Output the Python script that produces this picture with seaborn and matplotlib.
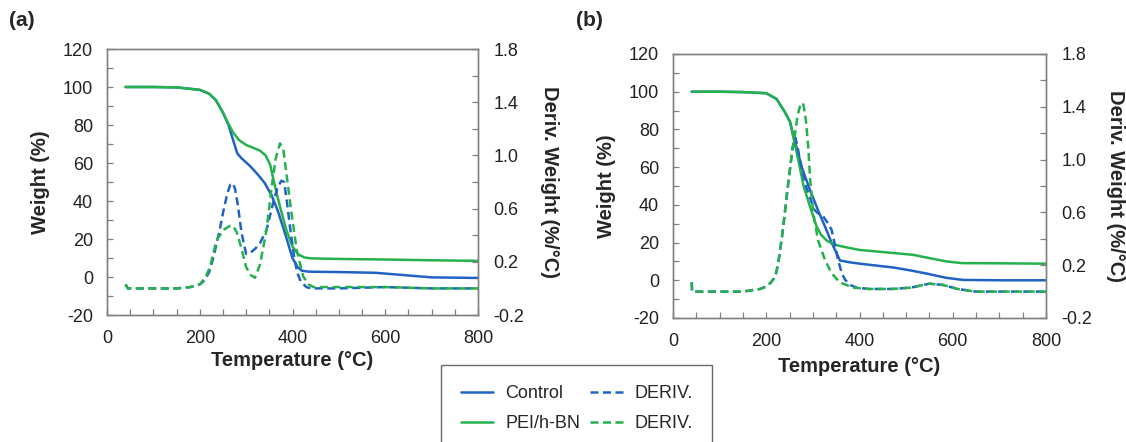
import matplotlib
matplotlib.use("Agg")
import matplotlib.pyplot as plt
from matplotlib.lines import Line2D
from matplotlib.ticker import MultipleLocator
import seaborn as sns

sns.set_theme(style="white")
plt.rcParams["font.family"] = ["Liberation Sans", "DejaVu Sans"]
plt.rcParams["axes.unicode_minus"] = False

BLUE = "#2163C4"
GREEN = "#25B14D"

# ---------------- Panel (a) data ----------------
a_ctrl_T = [40, 100, 150, 200, 220, 235, 250, 262, 272, 281, 290, 308, 325, 340, 355, 368,
            380, 390, 400, 410, 420, 435, 500, 580, 640, 700, 800]
a_ctrl_W = [100, 100, 99.8, 98.5, 96.5, 93, 86.5, 80, 72, 65, 62.5, 58.5, 54, 49.5, 43, 35,
            26, 18, 10, 5.5, 3.3, 2.8, 2.6, 2.2, 1.0, -0.2, -0.5]

a_pei_T = [40, 100, 150, 200, 220, 235, 250, 262, 272, 285, 300, 315, 330, 342, 352, 362,
           373, 387, 400, 412, 425, 440, 500, 600, 700, 800]
a_pei_W = [100, 100, 99.8, 98.5, 96.5, 93, 86.5, 80.5, 76, 72, 69.5, 68, 66.5, 64, 59, 48,
           37, 24.5, 16, 12, 10.3, 9.8, 9.5, 9.2, 8.8, 8.5]

a_ctrl_dT = [40, 45, 60, 100, 150, 180, 200, 210, 220, 230, 243, 252, 260, 266, 271, 276,
             282, 290, 300, 310, 320, 330, 344, 358, 368, 376, 382, 388, 395, 403, 410, 418,
             430, 440, 500, 600, 700, 800]
a_ctrl_D = [0.03, 0.0, 0.0, 0.0, 0.0, 0.01, 0.03, 0.06, 0.12, 0.24, 0.44, 0.6, 0.72, 0.78,
            0.79, 0.75, 0.63, 0.42, 0.26, 0.27, 0.3, 0.34, 0.44, 0.64, 0.76, 0.81, 0.8, 0.65,
            0.45, 0.25, 0.12, 0.05, 0.01, 0.0, 0.0, 0.01, 0.0, 0.0]

a_pei_dT = [40, 45, 60, 100, 150, 180, 200, 212, 222, 236, 251, 265, 272, 280, 290, 300,
            310, 319, 330, 344, 355, 364, 373, 380, 387, 398, 409, 423, 435, 445, 500, 600,
            700, 800]
a_pei_D = [0.03, 0.0, 0.0, 0.0, 0.0, 0.01, 0.03, 0.08, 0.16, 0.36, 0.44, 0.47, 0.47, 0.42,
           0.3, 0.16, 0.1, 0.08, 0.18, 0.44, 0.76, 0.98, 1.09, 1.05, 0.86, 0.56, 0.29, 0.09,
           0.03, 0.01, 0.01, 0.01, 0.0, 0.0]

# ---------------- Panel (b) data ----------------
b_ctrl_T = [40, 100, 150, 200, 222, 240, 251, 258, 265, 276, 294, 311, 329, 340, 351, 358,
            380, 401, 443, 472, 508, 543, 586, 622, 700, 800]
b_ctrl_W = [100, 100, 99.8, 99.2, 96.2, 89.2, 84, 77, 70.5, 60, 47.8, 37.2, 26.7, 20, 14.3,
            10.5, 9.5, 8.8, 7.6, 6.8, 5.3, 3.6, 1.3, 0.2, 0, 0]

b_pei_T = [40, 100, 150, 200, 222, 240, 251, 258, 265, 272, 280, 294, 308, 318, 330, 345,
           365, 400, 440, 480, 515, 545, 586, 620, 700, 800]
b_pei_W = [100, 100, 99.8, 99.2, 96.2, 89.2, 84, 76, 68, 60, 50, 39, 28.5, 24, 21, 19,
           17.8, 16.1, 15.2, 14.3, 13.5, 12, 10, 9.1, 9, 8.8]

b_ctrl_dT = [40, 41, 60, 100, 150, 187, 201, 210, 219, 225, 230, 235, 240, 245, 251, 256,
             262, 267, 272, 280, 286, 295, 303, 312, 322, 330, 340, 347, 354, 362, 369, 380,
             394, 420, 470, 510, 550, 580, 610, 650, 700, 800]
b_ctrl_D = [0.07, 0.0, 0.0, 0.0, 0.0, 0.02, 0.04, 0.07, 0.11, 0.2, 0.32, 0.45, 0.6, 0.76,
            0.93, 1.08, 1.17, 1.1, 1.0, 0.88, 0.79, 0.7, 0.62, 0.59, 0.57, 0.53, 0.47, 0.36,
            0.24, 0.14, 0.09, 0.05, 0.03, 0.02, 0.02, 0.03, 0.06, 0.05, 0.02, 0.0, 0.0, 0.0]

b_pei_dT = [40, 41, 60, 100, 150, 187, 201, 210, 219, 225, 230, 235, 240, 245, 251, 256,
            262, 267, 272, 279, 285, 290, 294, 301, 311, 326, 340, 350, 358, 372, 386, 420,
            470, 510, 550, 580, 610, 650, 700, 800]
b_pei_D = [0.07, 0.0, 0.0, 0.0, 0.0, 0.02, 0.04, 0.07, 0.11, 0.2, 0.32, 0.45, 0.6, 0.76,
           0.93, 1.08, 1.2, 1.33, 1.4, 1.43, 1.3, 1.1, 0.86, 0.59, 0.39, 0.24, 0.14, 0.1,
           0.07, 0.05, 0.03, 0.02, 0.02, 0.03, 0.06, 0.05, 0.02, 0.0, 0.0, 0.0]

x_ticks = [0, 200, 400, 600, 800]
w_ticks = [-20, 0, 20, 40, 60, 80, 100, 120]
d_ticks = [-0.2, 0.2, 0.6, 1.0, 1.4, 1.8]
d_tick_labels = ["-0.2", "0.2", "0.6", "1.0", "1.4", "1.8"]

labels = ["Control", "PEI/h-BN", "DERIV.", "DERIV."]

W, H = 1126, 442
fig = plt.figure(figsize=(W / 100, H / 100), dpi=100)

SPINE = "#808080"
DASH = (0, (3.2, 1.8))
LW = 1.8
LABEL_FS = 14.5
TICK_FS = 13


def rect_px(rect):
    l = rect[0] * W
    r = (rect[0] + rect[2]) * W
    b = (1 - rect[1]) * H
    t = (1 - rect[1] - rect[3]) * H
    return l, t, r, b


def px_rect(l, t, r, b):
    return [l / W, 1 - b / H, (r - l) / W, (b - t) / H]


def panel(rect, solid, dashed, tag, tag_xy, ylab_x, rlab_x, xlab_y):
    ax = fig.add_axes(rect)
    ax2 = ax.twinx()
    for (T, Y, c) in solid:
        sns.lineplot(x=T, y=Y, ax=ax, color=c, lw=LW, estimator=None, sort=False)
    for (T, Y, c) in dashed:
        sns.lineplot(x=T, y=Y, ax=ax2, color=c, lw=LW, linestyle=DASH,
                     estimator=None, sort=False)
    ax.set_xlim(0, 800)
    ax.set_ylim(-20, 120)
    ax2.set_ylim(-0.2, 1.8)
    ax.set_xticks(x_ticks)
    ax.set_yticks(w_ticks)
    ax2.set_yticks(d_ticks)
    ax2.set_yticklabels(d_tick_labels)
    ax.xaxis.set_minor_locator(MultipleLocator(50))
    ax.yaxis.set_minor_locator(MultipleLocator(10))
    ax2.yaxis.set_minor_locator(MultipleLocator(0.2))
    for a in (ax, ax2):
        for s in a.spines.values():
            s.set_color(SPINE)
            s.set_linewidth(1.0)
            s.set_visible(True)
        a.tick_params(which="both", direction="in", length=4, width=0.9, color=SPINE,
                      labelsize=TICK_FS, labelcolor="#222222")
        a.set_xlabel("")
        a.set_ylabel("")
    ax.tick_params(axis="x", which="both", bottom=True, top=False, pad=10.5)
    ax.tick_params(axis="y", which="both", left=True, right=False, pad=10)
    ax2.tick_params(axis="y", which="both", right=True, left=False, pad=11)
    ax2.tick_params(axis="x", which="both", bottom=False, top=False, labelbottom=False)

    fig.text(tag_xy[0] / W, 1 - tag_xy[1] / H, tag, fontsize=15, fontweight="bold",
             ha="left", va="center")
    l, t, r, b = rect_px(rect)
    cy = 1 - ((t + b) / 2) / H
    fig.text(ylab_x / W, cy, "Weight (%)", fontsize=LABEL_FS, fontweight="bold",
             rotation=90, ha="center", va="center")
    fig.text(rlab_x / W, cy, "Deriv. Weight (%/°C)", fontsize=LABEL_FS, fontweight="bold",
             rotation=270, ha="center", va="center")
    cx = (l + r) / 2 / W
    fig.text(cx, 1 - xlab_y / H, "Temperature (°C)", fontsize=LABEL_FS, fontweight="bold",
             ha="center", va="center")
    return ax, ax2


panel(px_rect(107, 49, 478, 315),
      [(a_ctrl_T, a_ctrl_W, BLUE), (a_pei_T, a_pei_W, GREEN)],
      [(a_ctrl_dT, a_ctrl_D, BLUE), (a_pei_dT, a_pei_D, GREEN)],
      "(a)", (9, 21), 40, 549, 360)

panel(px_rect(673, 54, 1046, 318),
      [(b_ctrl_T, b_ctrl_W, BLUE), (b_pei_T, b_pei_W, GREEN)],
      [(b_ctrl_dT, b_ctrl_D, BLUE), (b_pei_dT, b_pei_D, GREEN)],
      "(b)", (576, 21), 606, 1116, 366)

handles = [
    Line2D([], [], color=BLUE, lw=LW),
    Line2D([], [], color=GREEN, lw=LW),
    Line2D([], [], color=BLUE, lw=LW, linestyle=DASH),
    Line2D([], [], color=GREEN, lw=LW, linestyle=DASH),
]
leg = fig.legend(handles, labels, ncol=2, loc="upper left",
                 bbox_to_anchor=(441 / W, 1 - 365 / H), frameon=True, fancybox=False,
                 fontsize=13, handlelength=1.8, handletextpad=0.65, columnspacing=0.55,
                 labelspacing=0.72, borderpad=1.1, borderaxespad=0)
leg.get_frame().set_edgecolor("#444444")
leg.get_frame().set_linewidth(1.0)

fig.savefig("out.png", dpi=100)
